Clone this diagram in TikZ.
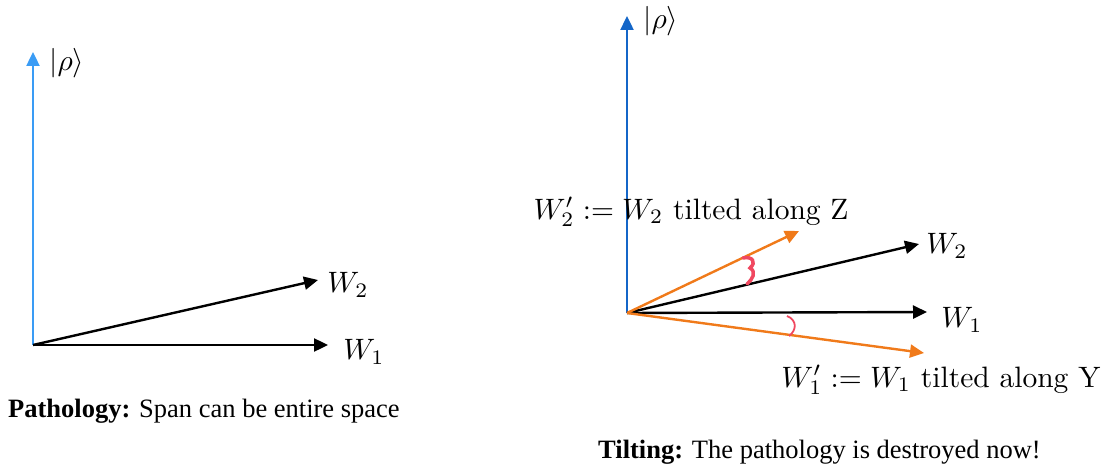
\documentclass[tikz,border=0pt]{standalone}
\usepackage{fontspec}
\newfontfamily\capfont{Liberation Serif}
\usetikzlibrary{arrows.meta}
\definecolor{lblue}{HTML}{3A9CF5}
\definecolor{dblue}{HTML}{1466C8}
\definecolor{myorange}{HTML}{F07A1A}
\definecolor{myred}{HTML}{F04860}
\begin{document}
\begin{tikzpicture}[x=1pt,y=-1pt,
  vec/.style={line width=2.4pt,-{Triangle[length=14pt,width=13pt]}},
  lab/.style={font=\normalsize,scale=2.95,inner sep=0pt},
  caption/.style={font=\capfont\fontsize{26.5}{30}\selectfont,inner sep=0pt,anchor=west}]
\useasboundingbox (0,0) rectangle (1105,473);
% left
\coordinate (O1) at (33,345);
\coordinate (rho1) at (33,52);
\coordinate (w2a) at (318,280);
\coordinate (w1a) at (328,345);
\draw[vec,lblue] (O1) -- (rho1);
\draw[vec,black] (O1) -- (w2a);
\draw[vec,black] (O1) -- (w1a);
\node[lab] (lrho1) at (67,63) {$|\rho\rangle$};
\node[lab] (lw2a) at (348,285) {$W_2$};
\node[lab] (lw1a) at (364,352) {$W_1$};
\node[caption] (cap1) at (8,411) {\textbf{Pathology:} Span can be entire space};
% right
\coordinate (O2) at (627,313);
\coordinate (rho2) at (627,16);
\coordinate (w2b) at (919,244);
\coordinate (w1b) at (927,312);
\coordinate (w2p) at (799,231);
\coordinate (w1p) at (924,353);
\draw[vec,dblue] (O2) -- (rho2);
\draw[vec,black] (O2) -- (w2b);
\draw[vec,black] (O2) -- (w1b);
\draw[vec,myorange] (O2) -- (w2p);
\draw[vec,myorange] (O2) -- (w1p);
\node[lab] (lrho2) at (661,21) {$|\rho\rangle$};
\node[lab] (lw2b) at (947,246) {$W_2$};
\node[lab] (lw1b) at (962,320) {$W_1$};
\node[lab,anchor=west] (lw2p) at (533,212) {$W_2' := W_2$ tilted along Z};
\node[lab,anchor=east] (lw1p) at (1101,380) {$W_1' := W_1$ tilted along Y};
\node[caption] (cap2) at (598,452) {\textbf{Tilting:} The pathology is destroyed now!};
% red marks
\draw[myred,line width=3.5pt,line cap=round] (743,258) .. controls (752,256) and (757,262) .. (750,268) .. controls (757,272) and (752,280) .. (747,284);
\draw[myred,line width=1.8pt] (787,316) .. controls (797,320) and (797,330) .. (789,336);
\end{tikzpicture}
\end{document}
